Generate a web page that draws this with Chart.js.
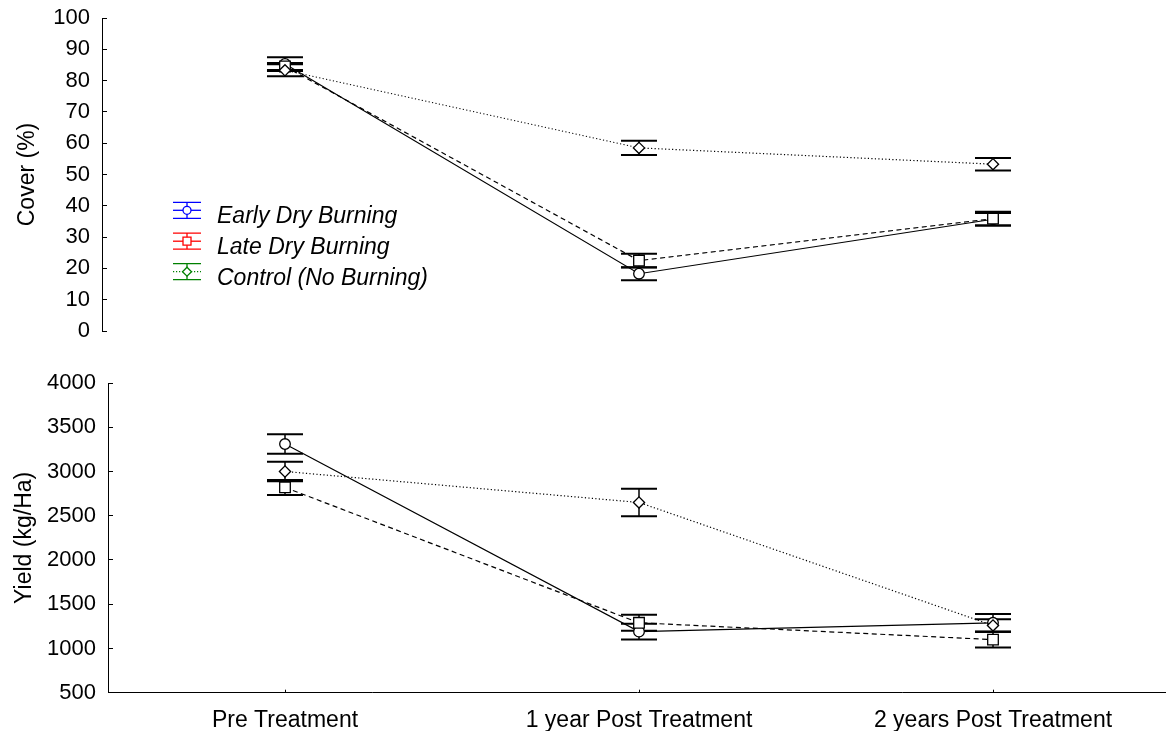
<!DOCTYPE html>
<html><head><meta charset="utf-8">
<script src="https://cdn.jsdelivr.net/npm/chart.js@4/dist/chart.umd.min.js"></script>
<style>
html,body{margin:0;padding:0;background:#fff;}
#wrap{position:relative;width:1166px;height:731px;overflow:hidden;}
#c1{position:absolute;left:0;top:0;}
#c2{position:absolute;left:0;top:360px;}
</style></head>
<body><div id="wrap"><canvas id="c1" width="1166" height="345"></canvas><canvas id="c2" width="1166" height="371"></canvas></div>
<script>
const categories = ['Pre Treatment', '1 year Post Treatment', '2 years Post Treatment'];
const seriesNames = ['Early Dry Burning', 'Late Dry Burning', 'Control (No Burning)'];
const legendColors = ['#0000ff', '#ff0000', '#008000'];

const coverTicks = [0, 10, 20, 30, 40, 50, 60, 70, 80, 90, 100];
const coverEarly = [85.3, 18.3, 35.7];
const coverEarlyErr = [2.2, 2.1, 2.0];
const coverLate = [84.5, 22.5, 35.9];
const coverLateErr = [1.1, 2.2, 2.2];
const coverControl = [83.3, 58.5, 53.3];
const coverControlErr = [1.9, 2.3, 2.0];

const yieldTicks = [500, 1000, 1500, 2000, 2500, 3000, 3500, 4000];
const yieldEarly = [3310, 1190, 1290];
const yieldEarlyErr = [110, 90, 100];
const yieldLate = [2820, 1290, 1100];
const yieldLateErr = [85, 90, 90];
const yieldControl = [3000, 2650, 1260];
const yieldControlErr = [110, 155, 70];

const FAM = '"Liberation Sans", Arial, sans-serif';

function makeDatasets(e, eErr, l, lErr, c, cErr) {
  const common = {borderColor:'#000', borderWidth:1.2, pointBackgroundColor:'#fff', pointBorderColor:'#000',
    pointBorderWidth:1.3, fill:false, tension:0};
  return [
    Object.assign({}, common, {label:seriesNames[0], data:e.map((v,i)=>({x:i,y:v})), errors:eErr,
      borderDash:[], pointStyle:'circle', pointRadius:5.3, order:3}),
    Object.assign({}, common, {label:seriesNames[1], data:l.map((v,i)=>({x:i,y:v})), errors:lErr,
      borderDash:[5,3.5], pointStyle:'rect', pointRadius:7.5, order:2}),
    Object.assign({}, common, {label:seriesNames[2], data:c.map((v,i)=>({x:i,y:v})), errors:cErr,
      borderDash:[1.2,2.3], pointStyle:'rectRot', pointRadius:5.6, order:1})
  ];
}

const errorBars = {
  id:'errorBars',
  beforeDatasetsDraw(chart){
    const ctx = chart.ctx, xs = chart.scales.x, ys = chart.scales.y;
    ctx.save();
    ctx.strokeStyle = '#000';
    chart.data.datasets.forEach(ds => {
      ds.data.forEach((p, i) => {
        const e = ds.errors[i];
        const px = xs.getPixelForValue(p.x);
        const t = ys.getPixelForValue(p.y + e), b = ys.getPixelForValue(p.y - e);
        ctx.lineWidth = 1.5;
        ctx.beginPath(); ctx.moveTo(px, t); ctx.lineTo(px, b); ctx.stroke();
        ctx.lineWidth = 2;
        ctx.beginPath();
        ctx.moveTo(px - 18, t); ctx.lineTo(px + 18, t);
        ctx.moveTo(px - 18, b); ctx.lineTo(px + 18, b);
        ctx.stroke();
      });
    });
    ctx.restore();
  }
};

const legendPlugin = {
  id:'customLegend',
  afterDraw(chart){
    const ctx = chart.ctx;
    const rows = [210.3, 241.2, 271.7];
    const cx = 187;
    ctx.save();
    chart.data.datasets.forEach((ds, k) => {
      const y = rows[k], col = legendColors[k];
      ctx.strokeStyle = col; ctx.lineWidth = 1.3; ctx.setLineDash([]);
      ctx.beginPath();
      ctx.moveTo(cx - 14, y - 8); ctx.lineTo(cx + 14, y - 8);
      ctx.moveTo(cx - 14, y + 8); ctx.lineTo(cx + 14, y + 8);
      ctx.moveTo(cx, y - 8); ctx.lineTo(cx, y + 8);
      ctx.stroke();
      if (k === 2) ctx.setLineDash([1.2, 1.8]);
      ctx.beginPath(); ctx.moveTo(cx - 14, y); ctx.lineTo(cx + 14, y); ctx.stroke();
      ctx.setLineDash([]);
      ctx.fillStyle = '#fff';
      ctx.beginPath();
      if (k === 0) ctx.arc(cx, y, 4, 0, Math.PI * 2);
      else if (k === 1) ctx.rect(cx - 4, y - 4, 8, 8);
      else { ctx.moveTo(cx, y - 4.5); ctx.lineTo(cx + 4.5, y); ctx.lineTo(cx, y + 4.5); ctx.lineTo(cx - 4.5, y); ctx.closePath(); }
      ctx.fill(); ctx.stroke();
      ctx.fillStyle = '#000';
      ctx.font = 'italic 23px ' + FAM;
      ctx.textBaseline = 'alphabetic';
      ctx.fillText(ds.label, 217, y + 13);
    });
    ctx.restore();
  }
};

function zeroPad(s) { s.paddingTop = 0; s.paddingBottom = 0; s.paddingLeft = 0; s.paddingRight = 0; }

function yScale(ticks, min, max, width, title, titlePad) {
  return {
    min:min, max:max,
    afterBuildTicks: s => { s.ticks = ticks.map(v => ({value:v})); },
    afterFit: s => { s.width = width; zeroPad(s); },
    grid:{drawOnChartArea:false, drawTicks:true, tickLength:-5, color:'#000', lineWidth:1},
    border:{display:true, color:'#000', width:1},
    ticks:{color:'#000', font:{size:22, family:FAM}, padding:17, callback: v => String(v)},
    title:{display:true, text:title, color:'#000', font:{size:23, family:FAM}, padding:{top:titlePad, bottom:0}}
  };
}

new Chart(document.getElementById('c1'), {
  type:'line',
  data:{datasets:makeDatasets(coverEarly, coverEarlyErr, coverLate, coverLateErr, coverControl, coverControlErr)},
  options:{
    responsive:false, animation:false,
    layout:{autoPadding:false, padding:{top:18, bottom:14, left:0, right:0}},
    plugins:{legend:{display:false}, tooltip:{enabled:false}},
    scales:{
      x:{type:'linear', display:false, min:-0.5169, max:2.4887, afterFit: zeroPad},
      y:yScale(coverTicks, 0, 100, 102, 'Cover (%)', 14)
    }
  },
  plugins:[errorBars, legendPlugin]
});

new Chart(document.getElementById('c2'), {
  type:'line',
  data:{datasets:makeDatasets(yieldEarly, yieldEarlyErr, yieldLate, yieldLateErr, yieldControl, yieldControlErr)},
  options:{
    responsive:false, animation:false,
    layout:{autoPadding:false, padding:{top:23, bottom:0, left:0, right:0}},
    plugins:{legend:{display:false}, tooltip:{enabled:false}},
    scales:{
      x:{type:'linear', position:'bottom', min:-0.5, max:2.4887,
        afterBuildTicks: s => { s.ticks = categories.map((c, i) => ({value:i})); },
        afterFit: s => { s.height = 38.3; zeroPad(s); },
        grid:{drawOnChartArea:false, drawTicks:true, tickLength:-3, color:'#000', lineWidth:1},
        border:{display:true, color:'#000', width:1},
        ticks:{color:'#000', font:{size:23, family:FAM}, padding:17, maxRotation:0, autoSkip:false,
          callback: v => categories[v]}
      },
      y:yScale(yieldTicks, 500, 4000, 108, 'Yield (kg/Ha)', 11)
    }
  },
  plugins:[errorBars]
});
</script></body></html>
